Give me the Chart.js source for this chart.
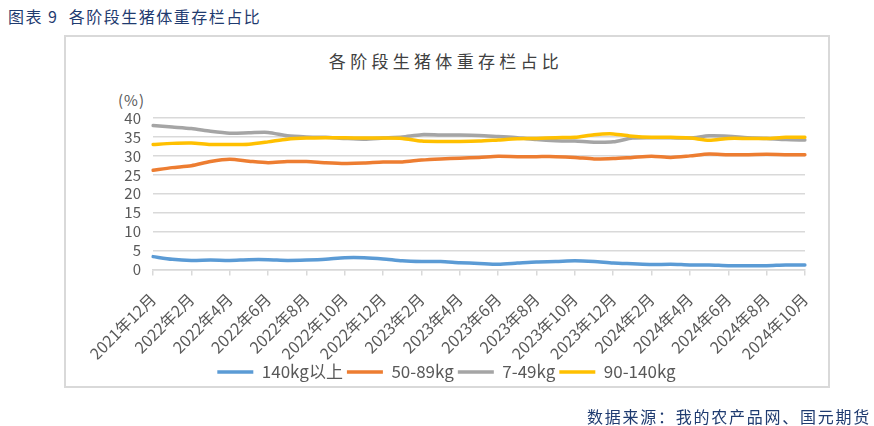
<!DOCTYPE html>
<html>
<head>
<meta charset="utf-8">
<script src="https://cdn.jsdelivr.net/npm/chart.js@4"></script>
<style>
  body { margin: 0; background: #fff; font-family: "Noto Sans CJK SC", sans-serif; }
  #page { position: relative; width: 874px; height: 426px; overflow: hidden; }
  #head { position: absolute; left: 8px; top: 5px; font-size: 16px; letter-spacing: 1.5px; color: #1f3b70; white-space: pre; line-height: 22px; }
  #box { position: absolute; left: 64px; top: 35px; width: 762px; height: 349px; border: 2px solid #d9d9d9; }
  #title { position: absolute; left: 0; width: 892px; top: 50px; text-align: center; font-size: 17px; letter-spacing: 4.3px; color: #404040; line-height: 22px; }
  #unit { position: absolute; left: 118px; top: 90px; font-size: 15px; color: #595959; line-height: 20px; letter-spacing: 1px; }
  #src { position: absolute; right: 3px; top: 405px; font-size: 16px; letter-spacing: 1.75px; color: #1f3b70; line-height: 22px; }
  canvas { position: absolute; left: 0; top: 0; }
</style>
</head>
<body>
<div id="page">
  <div id="head">图表 9  各阶段生猪体重存栏占比</div>
  <div id="box"></div>
  <div id="title">各阶段生猪体重存栏占比</div>
  <div id="unit">(%)</div>
  <canvas id="myChart" width="874" height="426"></canvas>
  <div id="src">数据来源：我的农产品网、国元期货</div>
</div>
<script>
let months = [
    '2021年12月',
    '2022年1月', '2022年2月', '2022年3月', '2022年4月', '2022年5月', '2022年6月',
    '2022年7月', '2022年8月', '2022年9月', '2022年10月', '2022年11月', '2022年12月',
    '2023年1月', '2023年2月', '2023年3月', '2023年4月', '2023年5月', '2023年6月',
    '2023年7月', '2023年8月', '2023年9月', '2023年10月', '2023年11月', '2023年12月',
    '2024年1月', '2024年2月', '2024年3月', '2024年4月', '2024年5月', '2024年6月',
    '2024年7月', '2024年8月', '2024年9月', '2024年10月'
];

let over140 = [3.4, 2.7, 2.4, 2.5, 2.4, 2.6, 2.6, 2.4, 2.5, 2.7, 3.1, 3.1, 2.8, 2.3, 2.1, 2.1, 1.8, 1.6,
    1.4, 1.7, 2.0, 2.1, 2.3, 2.1, 1.7, 1.5, 1.3, 1.4, 1.2, 1.2, 1.0, 1.0, 1.0, 1.2, 1.2];
let w50to89 = [26.2, 26.9, 27.4, 28.5, 29.1, 28.6, 28.2, 28.5, 28.5, 28.2, 28.0, 28.1, 28.4, 28.4, 28.9, 29.2, 29.4, 29.6,
    29.9, 29.8, 29.8, 29.8, 29.6, 29.2, 29.3, 29.6, 29.9, 29.6, 30.0, 30.5, 30.3, 30.3, 30.4, 30.3, 30.3];
let w7to49 = [38.0, 37.6, 37.2, 36.5, 36.0, 36.1, 36.2, 35.3, 35.0, 34.9, 34.6, 34.4, 34.7, 35.0, 35.6, 35.5, 35.5, 35.4,
    35.1, 34.8, 34.3, 34.0, 33.9, 33.6, 33.7, 34.7, 34.8, 34.8, 34.7, 35.3, 35.2, 34.8, 34.6, 34.3, 34.2];
let w90to140 = [33.0, 33.3, 33.4, 33.0, 33.0, 33.1, 33.7, 34.4, 34.7, 34.8, 34.8, 34.7, 34.7, 34.6, 33.9, 33.8, 33.8, 33.9,
    34.2, 34.5, 34.6, 34.8, 34.9, 35.6, 35.8, 35.2, 34.9, 34.9, 34.7, 34.1, 34.6, 34.6, 34.6, 34.9, 34.9];

let seriesNames = ['140kg以上', '50-89kg', '7-49kg', '90-140kg'];
let seriesColors = ['#5b9bd5', '#ed7d31', '#a5a5a5', '#ffc000'];
let seriesData = [over140, w50to89, w7to49, w90to140];

let makeSet = function (i) {
    return {
        label: seriesNames[i],
        data: seriesData[i],
        borderColor: seriesColors[i],
        backgroundColor: seriesColors[i],
        borderWidth: 3.5,
        borderCapStyle: 'round',
        pointRadius: 0,
        tension: 0.25,
        fill: false,
        order: 4 - i   // later series drawn on top, like the original
    };
}

const grey = '#d9d9d9';
const textColor = '#595959';
const font = { family: '"Noto Sans CJK SC", sans-serif', size: 15 };
const bigFont = { family: '"Noto Sans CJK SC", sans-serif', size: 16 };

// legend in the original sits a bit right of the plot centre
let shiftLegend = {
    id: 'shiftLegend',
    afterLayout: function (chart) {
        chart.legend.left += 14;
        chart.legend.right += 14;
    }
};

const ctx = document.getElementById('myChart').getContext('2d');
var myChart = new Chart(ctx, {
    type: 'line',
    data: {
        labels: months,
        datasets: [makeSet(0), makeSet(1), makeSet(2), makeSet(3)]
    },
    plugins: [shiftLegend],
    options: {
        responsive: false,
        animation: false,
        layout: {
            padding: { left: 60, right: 69, top: 118, bottom: 35.5 }
        },
        plugins: {
            tooltip: { enabled: false },
            legend: {
                position: 'bottom',
                labels: {
                    usePointStyle: true,
                    pointStyle: 'line',
                    pointStyleWidth: 36,
                    padding: 4,
                    color: textColor,
                    font: { family: '"Noto Sans CJK SC", sans-serif', size: 17 },
                    sort: function (a, b) { return a.datasetIndex - b.datasetIndex; }
                }
            }
        },
        scales: {
            x: {
                afterFit: function (scale) { scale.height = 90; },
                grid: {
                    drawOnChartArea: false,
                    drawTicks: true,
                    tickLength: 6,
                    lineWidth: 1.5,
                    color: function (c) { return c.index % 2 === 0 ? grey : 'rgba(0,0,0,0)'; }
                },
                border: { display: true, color: grey, width: 1.5 },
                ticks: {
                    autoSkip: false,
                    minRotation: 45,
                    maxRotation: 45,
                    padding: 14,
                    color: textColor,
                    font: bigFont,
                    callback: function (v, i) { return i % 2 === 0 ? months[i] : ''; }
                }
            },
            y: {
                min: 0,
                max: 40,
                afterFit: function (scale) { scale.width = 93; },
                grid: { color: grey, lineWidth: 1.5, drawTicks: false },
                border: { display: false },
                ticks: {
                    stepSize: 5,
                    autoSkip: false,
                    padding: 12,
                    color: textColor,
                    font: font
                }
            }
        }
    }
});
</script>
</body>
</html>
